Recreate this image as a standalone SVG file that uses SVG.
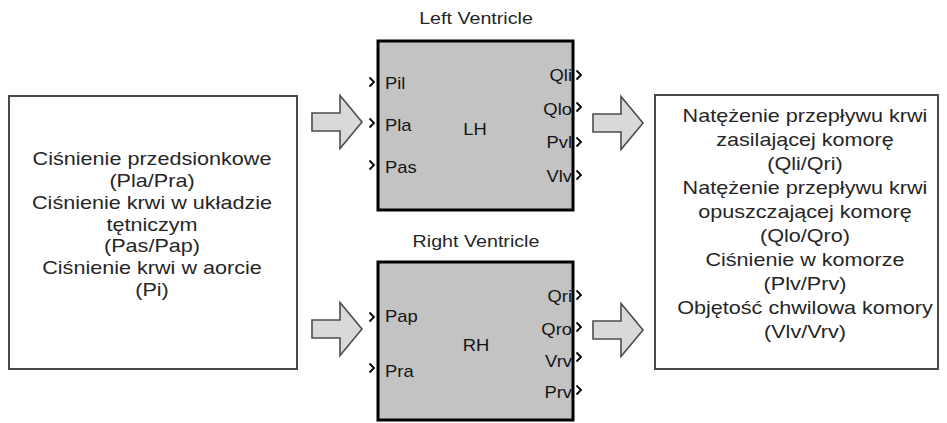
<svg xmlns="http://www.w3.org/2000/svg" xmlns:xlink="http://www.w3.org/1999/xlink" width="947" height="423" viewBox="0 0 947 423">
  <style>
    .txt { font-family: "Liberation Sans", Arial, sans-serif; fill: #262626; }
    .big { font-size: 18px; text-anchor: middle; }
    .title { font-size: 16.4px; text-anchor: middle; }
    .port { font-size: 16px; fill: #141414; }
    .portr { font-size: 16px; fill: #141414; text-anchor: end; }
    .infobox { fill: #ffffff; stroke: #4a4a4a; stroke-width: 2; }
    .block { fill: #c3c3c3; stroke: #000000; stroke-width: 3; }
    .flow { fill: #d9d9d9; stroke: #4d4d4d; stroke-width: 1.6; stroke-linejoin: miter; }
    .chev { fill: none; stroke: #000000; stroke-width: 1.8; }
  </style>
  <defs>
    <path id="chevron" class="chev" d="M-2.5,-4.5 L2,0 L-2.5,4.5"/>
    <!-- hollow block arrow, origin at the middle of the shaft's left end -->
    <path id="blockArrow" class="flow" d="M0,-9 L28,-9 L28,-26.5 L50,0 L28,26.5 L28,9 L0,9 Z"/>
  </defs>

  <!-- input signals box -->
  <g id="inputs">
    <rect class="infobox" x="9" y="96" width="288" height="273"/>
    <g class="txt big" transform="translate(152 0) scale(1.2 1)">
      <text x="0" y="165">Ciśnienie przedsionkowe</text>
      <text x="0" y="187">(Pla/Pra)</text>
      <text x="0" y="209">Ciśnienie krwi w układzie</text>
      <text x="0" y="231">tętniczym</text>
      <text x="0" y="252">(Pas/Pap)</text>
      <text x="0" y="274">Ciśnienie krwi w aorcie</text>
      <text x="0" y="296">(Pi)</text>
    </g>
  </g>

  <!-- left ventricle subsystem -->
  <g id="left-ventricle">
    <text class="txt title" transform="translate(476 24) scale(1.2 1)">Left Ventricle</text>
    <rect class="block" x="378" y="41" width="195" height="169"/>
    <text class="txt port" transform="translate(385 89) scale(1.15 1)">Pil</text>
    <text class="txt port" transform="translate(385 131) scale(1.15 1)">Pla</text>
    <text class="txt port" transform="translate(385 173) scale(1.15 1)">Pas</text>
    <text class="txt port" style="text-anchor:middle" transform="translate(475 135) scale(1.15 1)">LH</text>
    <text class="txt portr" transform="translate(572 81) scale(1.15 1)">Qli</text>
    <text class="txt portr" transform="translate(572 115) scale(1.15 1)">Qlo</text>
    <text class="txt portr" transform="translate(572 148) scale(1.15 1)">Pvl</text>
    <text class="txt portr" transform="translate(572 182) scale(1.15 1)">Vlv</text>
    <use xlink:href="#chevron" x="372" y="82"/>
    <use xlink:href="#chevron" x="372" y="123"/>
    <use xlink:href="#chevron" x="372" y="165"/>
    <use xlink:href="#chevron" x="579" y="75"/>
    <use xlink:href="#chevron" x="579" y="107"/>
    <use xlink:href="#chevron" x="579" y="142"/>
    <use xlink:href="#chevron" x="579" y="175"/>
  </g>

  <!-- right ventricle subsystem -->
  <g id="right-ventricle">
    <text class="txt title" transform="translate(476 247) scale(1.2 1)">Right Ventricle</text>
    <rect class="block" x="378" y="262" width="195" height="158"/>
    <text class="txt port" transform="translate(385 322) scale(1.15 1)">Pap</text>
    <text class="txt port" transform="translate(385 377) scale(1.15 1)">Pra</text>
    <text class="txt port" style="text-anchor:middle" transform="translate(476 351) scale(1.15 1)">RH</text>
    <text class="txt portr" transform="translate(572 302) scale(1.15 1)">Qri</text>
    <text class="txt portr" transform="translate(572 335) scale(1.15 1)">Qro</text>
    <text class="txt portr" transform="translate(572 367) scale(1.15 1)">Vrv</text>
    <text class="txt portr" transform="translate(572 398) scale(1.15 1)">Prv</text>
    <use xlink:href="#chevron" x="372" y="317"/>
    <use xlink:href="#chevron" x="372" y="368"/>
    <use xlink:href="#chevron" x="579" y="295"/>
    <use xlink:href="#chevron" x="579" y="327"/>
    <use xlink:href="#chevron" x="579" y="357"/>
    <use xlink:href="#chevron" x="579" y="390"/>
  </g>

  <!-- output signals box -->
  <g id="outputs">
    <rect class="infobox" x="655" y="95" width="283" height="274"/>
    <g class="txt big" transform="translate(805 0) scale(1.2 1)">
      <text x="0" y="122">Natężenie przepływu krwi</text>
      <text x="0" y="146">zasilającej komorę</text>
      <text x="0" y="170">(Qli/Qri)</text>
      <text x="0" y="194">Natężenie przepływu krwi</text>
      <text x="0" y="218">opuszczającej komorę</text>
      <text x="0" y="242">(Qlo/Qro)</text>
      <text x="0" y="266">Ciśnienie w komorze</text>
      <text x="0" y="290">(Plv/Prv)</text>
      <text x="0" y="314">Objętość chwilowa komory</text>
      <text x="0" y="338">(Vlv/Vrv)</text>
    </g>
  </g>

  <!-- signal flow arrows -->
  <g id="connectors">
    <use xlink:href="#blockArrow" x="312" y="122"/>
    <use xlink:href="#blockArrow" x="312" y="329"/>
    <use xlink:href="#blockArrow" x="593" y="123"/>
    <use xlink:href="#blockArrow" x="593" y="330"/>
  </g>
</svg>
